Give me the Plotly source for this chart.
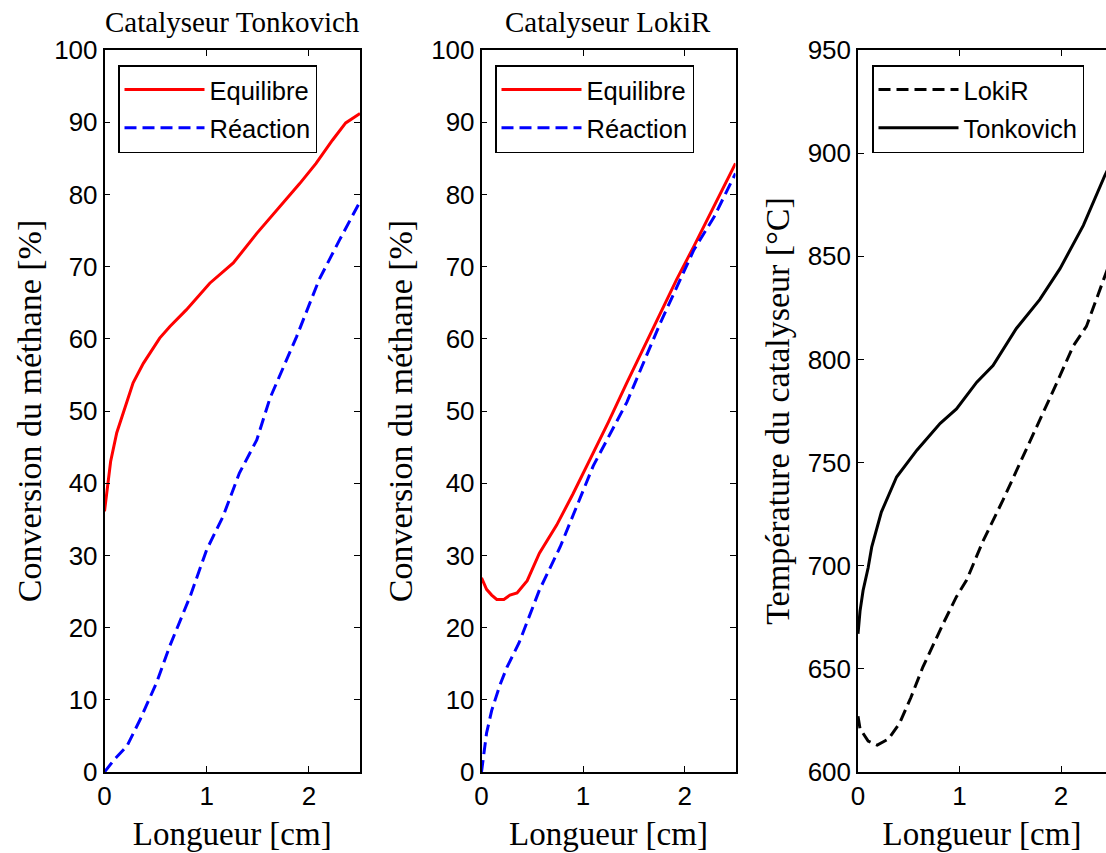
import plotly.graph_objects as go

# Catalyseur Tonkovich (conversion, %)
tonk_eq_x = [0, 0.03, 0.06, 0.12, 0.2, 0.28, 0.38, 0.54, 0.64, 0.80, 1.03, 1.26, 1.49, 1.75, 1.91, 2.07, 2.23, 2.36, 2.48, 2.5]
tonk_eq_y = [36.1, 40, 43, 47, 50.5, 53.9, 56.6, 60.1, 61.7, 64, 67.7, 70.5, 74.6, 78.8, 81.5, 84.3, 87.5, 89.9, 91, 91.2]
tonk_re_x = [0, 0.1, 0.22, 0.35, 0.51, 0.64, 0.84, 1.0, 1.16, 1.32, 1.49, 1.62, 1.88, 2.10, 2.30, 2.48, 2.5]
tonk_re_y = [0, 1.8, 3.6, 7.3, 12.4, 17.5, 24.4, 30.8, 35.4, 41.4, 46, 51.8, 60.3, 68.2, 73.7, 78.5, 79]

# Catalyseur LokiR (conversion, %)
loki_eq_x = [0, 0.05, 0.1, 0.15, 0.22, 0.28, 0.35, 0.45, 0.57, 0.74, 0.9, 1.1, 1.25, 1.43, 1.6, 1.76, 1.92, 2.09, 2.29, 2.4, 2.5]
loki_eq_y = [26.9, 25.3, 24.5, 23.9, 23.9, 24.5, 24.8, 26.5, 30.3, 34.2, 38.5, 44.2, 48.5, 53.9, 58.8, 63.6, 68.2, 72.8, 78.4, 81.5, 84.3]
loki_re_x = [0, 0.02, 0.05, 0.1, 0.18, 0.25, 0.37, 0.57, 0.775, 1.1, 1.43, 1.76, 2.09, 2.29, 2.5]
loki_re_y = [0, 2.5, 5.4, 8.5, 12, 14.5, 17.9, 25.2, 31.2, 42.4, 51.2, 62.2, 72.3, 76.9, 82.9]

# catalyst temperature (°C)
temp_loki_x = [0, 0.02, 0.1, 0.19, 0.3, 0.41, 0.52, 0.64, 0.84, 0.97, 1.07, 1.23, 1.43, 1.69, 1.96, 2.12, 2.25, 2.42, 2.5]
temp_loki_y = [627, 621, 615, 613, 616, 623.7, 636, 651, 672, 685, 693, 711.8, 732, 759.7, 788.8, 806.5, 816, 838.8, 849.5]
temp_tonk_x = [0, 0.02, 0.05, 0.1, 0.135, 0.23, 0.38, 0.58, 0.81, 0.97, 1.17, 1.33, 1.56, 1.79, 1.99, 2.22, 2.43, 2.5]
temp_tonk_y = [667, 678, 688, 699, 709, 726, 743, 756, 769, 776, 789, 797, 815, 829, 844, 865, 889, 896]

SANS = "Liberation Sans, Arial, sans-serif"
SERIF = "Liberation Serif, Times New Roman, serif"
DASH = "12px,6px"

fig = go.Figure()

fig.add_trace(go.Scatter(x=tonk_eq_x, y=tonk_eq_y, name="Equilibre", mode="lines", legendgroup="a",
                         line=dict(color="red", width=3), xaxis="x", yaxis="y", legend="legend"))
fig.add_trace(go.Scatter(x=tonk_re_x, y=tonk_re_y, name="Réaction", mode="lines", legendgroup="b",
                         line=dict(color="blue", width=3, dash=DASH), xaxis="x", yaxis="y", legend="legend"))
fig.add_trace(go.Scatter(x=loki_eq_x, y=loki_eq_y, name="Equilibre", mode="lines", legendgroup="c",
                         line=dict(color="red", width=3), xaxis="x2", yaxis="y2", legend="legend2"))
fig.add_trace(go.Scatter(x=loki_re_x, y=loki_re_y, name="Réaction", mode="lines", legendgroup="d",
                         line=dict(color="blue", width=3, dash=DASH), xaxis="x2", yaxis="y2", legend="legend2"))
fig.add_trace(go.Scatter(x=temp_loki_x, y=temp_loki_y, name="LokiR", mode="lines", legendgroup="e",
                         line=dict(color="black", width=3, dash=DASH), xaxis="x3", yaxis="y3", legend="legend3"))
fig.add_trace(go.Scatter(x=temp_tonk_x, y=temp_tonk_y, name="Tonkovich", mode="lines", legendgroup="f",
                         line=dict(color="black", width=3), xaxis="x3", yaxis="y3", legend="legend3"))

W, H = 1106, 853
ydom = [1 - 772 / H, 1 - 50 / H]


def xax(dom, rng, anchor):
    return dict(domain=dom, range=rng, anchor=anchor, tickvals=[0, 1, 2], automargin=False,
                ticks="inside", ticklen=6, tickcolor="black", showline=True,
                linecolor="black", linewidth=1.5, mirror="ticks", showgrid=False,
                zeroline=False, tickfont=dict(family=SANS, size=26, color="black"),
                title=dict(text="Longueur [cm]", standoff=12,
                           font=dict(family=SERIF, size=33, color="black")))


def yax(rng, dtick, anchor, title, standoff, mirror="ticks"):
    return dict(domain=ydom, range=rng, dtick=dtick, anchor=anchor, automargin=False,
                ticks="inside", ticklen=6, tickcolor="black", showline=True,
                linecolor="black", linewidth=1.5, mirror=mirror, showgrid=False,
                zeroline=False, tickfont=dict(family=SANS, size=26, color="black"),
                title=dict(text=title, standoff=standoff,
                           font=dict(family=SERIF, size=34, color="black")))


def leg(x0, y0):
    return dict(x=x0, y=y0, xanchor="left", yanchor="top", bgcolor="white",
                bordercolor="black", borderwidth=1.5, itemwidth=80, tracegroupgap=2,
                font=dict(family=SANS, size=25.5, color="black"))


fig.update_layout(
    template="none",
    width=W, height=H,
    margin=dict(l=0, r=0, t=0, b=0),
    paper_bgcolor="white", plot_bgcolor="white",
    xaxis=xax([104.5 / W, 360 / W], [0, 2.5], "y"),
    xaxis2=xax([481.5 / W, 735.5 / W], [0, 2.5], "y2"),
    xaxis3=xax([858 / W, 1.0], [0, 2.443], "y3"),
    yaxis=yax([0, 100], 10, "x", "Conversion du méthane [%]", 2),
    yaxis2=yax([0, 100], 10, "x2", "Conversion du méthane [%]", 8),
    yaxis3=yax([600, 950], 50, "x3", "Température du catalyseur [°C]", 8, mirror=False),
    legend=leg(118 / W, 1 - 65 / H),
    legend2=leg(495 / W, 1 - 65 / H),
    legend3=leg(872 / W, 1 - 65 / H),
    annotations=[
        dict(text="Catalyseur Tonkovich", x=232 / W, y=1 - 22 / H, xref="paper", yref="paper",
             xanchor="center", yanchor="middle", showarrow=False,
             font=dict(family=SERIF, size=29, color="black")),
        dict(text="Catalyseur LokiR", x=608 / W, y=1 - 22 / H, xref="paper", yref="paper",
             xanchor="center", yanchor="middle", showarrow=False,
             font=dict(family=SERIF, size=29, color="black")),
    ],
)

fig.write_html("out.html", config={"displayModeBar": False},
               post_script="document.body.style.margin = '0px';")
